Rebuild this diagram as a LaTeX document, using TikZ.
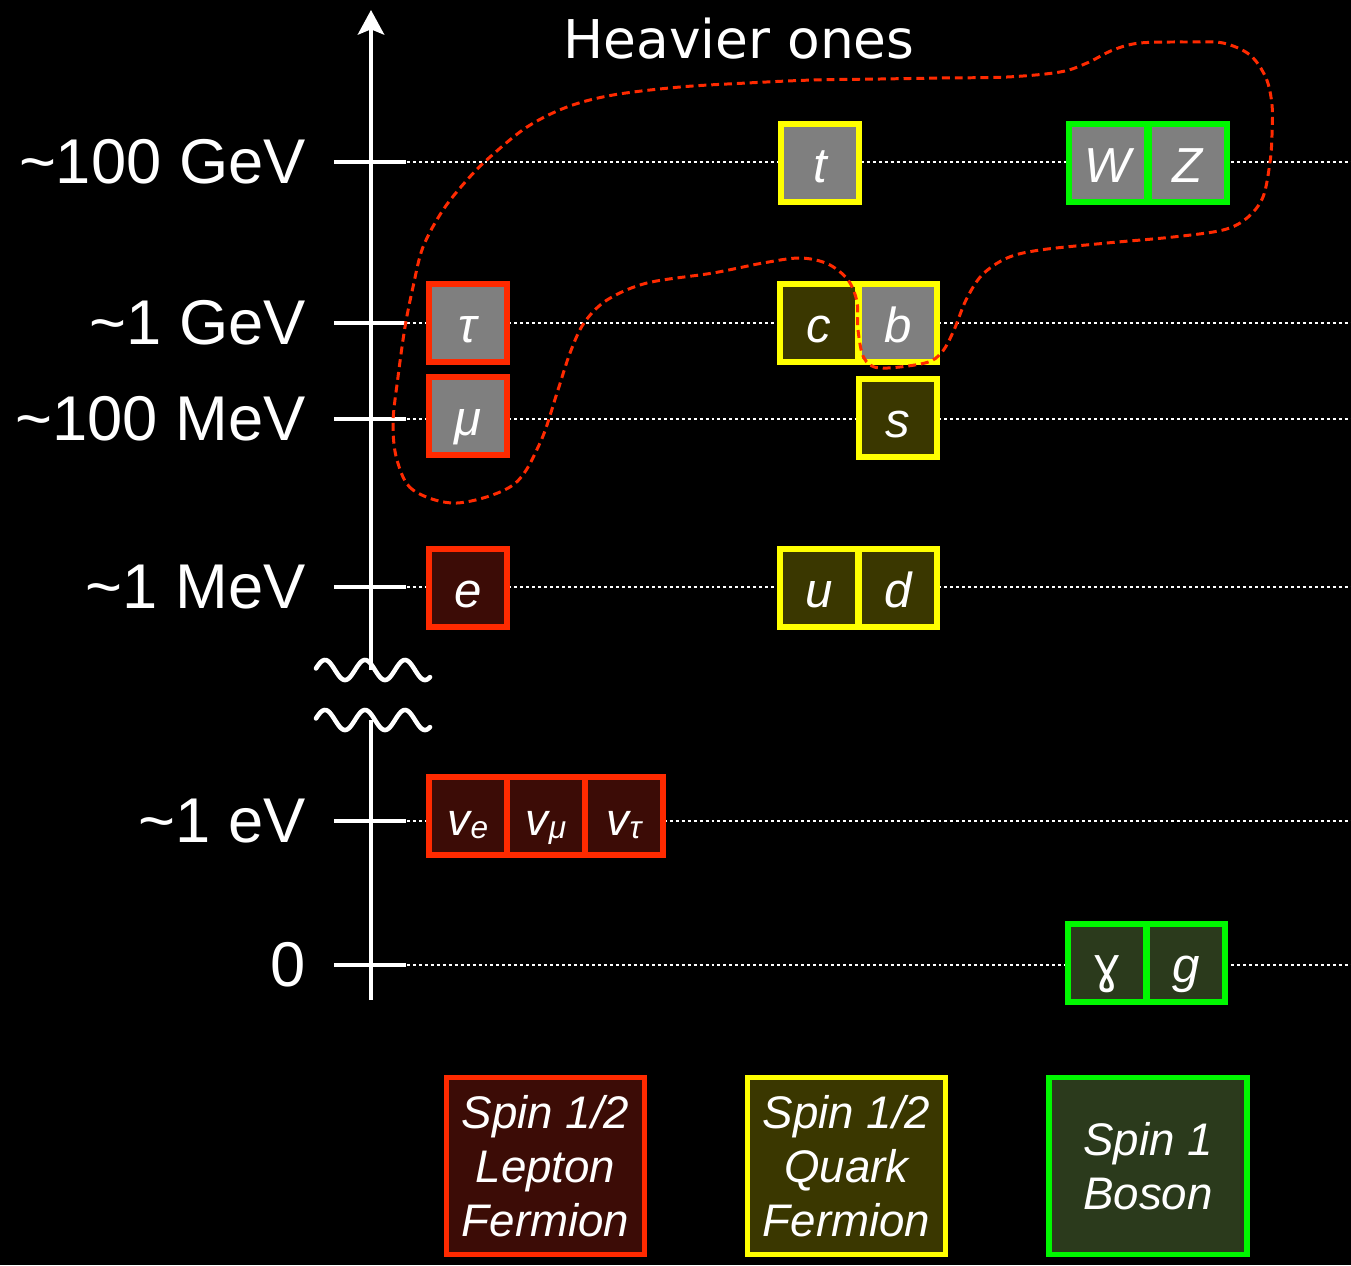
\documentclass[tikz,border=0pt]{standalone}
\usepackage{fontspec}
\setmainfont{Liberation Sans}
\newfontfamily\headfont{DejaVu Sans}
\newfontfamily\symfont{DejaVu Sans}
\usetikzlibrary{arrows.meta}

\definecolor{lepred}{HTML}{FF2A00}
\definecolor{lepfill}{HTML}{3C0C06}
\definecolor{qyellow}{HTML}{FFFF00}
\definecolor{qfill}{HTML}{3A3700}
\definecolor{bgreen}{HTML}{00F800}
\definecolor{bfill}{HTML}{2B3A1C}
\definecolor{heavygray}{HTML}{7F7F7F}
\definecolor{loopred}{HTML}{FF2A00}

\begin{document}
\begin{tikzpicture}[x=0.02cm, y=-0.02cm,
  axisline/.style={white, line width=2.3pt},
  tickline/.style={white, line width=1.8pt},
  gridline/.style={white, line width=0.8pt, dash pattern=on 1.7pt off 1.7pt},
  wavyline/.style={white, line width=2.6pt, line cap=round},
  axislabel/.style={text=white, inner sep=0pt, anchor=east, font=\fontsize{36}{36}\selectfont},
  headlabel/.style={text=white, inner sep=0pt, font=\headfont\fontsize{30.4}{30.4}\selectfont},
  particle/.style={draw, line width=3pt, minimum size=1.56cm, inner sep=0pt,
    text=white, font=\fontsize{28}{28}\selectfont\itshape, text height=22pt, text depth=0pt},
  lep/.style={particle, draw=lepred, fill=lepfill},
  qrk/.style={particle, draw=qyellow, fill=qfill},
  bos/.style={particle, draw=bgreen, fill=bfill},
  heavy/.style={fill=heavygray},
  catbox/.style={draw, line width=3pt, minimum width=3.96cm, minimum height=3.54cm,
    align=center, text=white, font=\fontsize{26}{30.6}\selectfont\itshape},
  heavyloop/.style={loopred, line width=1.7pt, dash pattern=on 4.5pt off 2.8pt}
]
% canvas
\fill[black] (0,0) rectangle (1351,1265);
\useasboundingbox (0,0) rectangle (1351,1265);

% energy levels: dotted guide lines, ticks and labels
\foreach \name/\yy/\lab in {
    gevh/162/{\textasciitilde100 GeV},
    gev/323/{\textasciitilde1 GeV},
    mevh/419/{\textasciitilde100 MeV},
    mev/587/{\textasciitilde1 MeV},
    ev/821/{\textasciitilde1 eV},
    zero/965/{0}} {
  \coordinate (\name-a) at (371,\yy);
  \coordinate (\name-l) at (334,\yy);
  \coordinate (\name-r) at (406,\yy);
  \coordinate (\name-e) at (1351,\yy);
  \draw[gridline] (\name-a) -- (\name-e);
  \draw[tickline] (\name-l) -- (\name-r);
  \node[axislabel] (\name-t) at (306,\yy) {\lab};
}

% broken vertical axis
\coordinate (axbottom) at (371,1000);
\coordinate (axlow) at (371,720);
\coordinate (axhigh) at (371,670);
\coordinate (axtop) at (371,10);
\draw[axisline] (axbottom) -- (axlow);
\draw[axisline, -{Stealth[width=15pt, length=14pt, inset=3pt]}] (axhigh) -- (axtop);

% break marks
\draw[wavyline] plot[domain=316:430, samples=120] (\x, {670-10*sin(9*(\x-315))});
\draw[wavyline] plot[domain=316:430, samples=120] (\x, {720-10*sin(9*(\x-315))});

\node[headlabel, anchor=base] (heavier) at (739,58) {Heavier ones};

% leptons
\node[lep, heavy] (tau) at (468,323) {τ};
\node[lep, heavy] (mu) at (468,416) {μ};
\node[lep] (e) at (468,588) {e};
\node[lep] (nue) at (468,816) {\fontsize{26}{26}\selectfont v\raisebox{-2pt}{\fontsize{18}{18}\selectfont e}};
\node[lep] (numu) at (546,816) {\fontsize{26}{26}\selectfont v\raisebox{-2pt}{\fontsize{18}{18}\selectfont μ}};
\node[lep] (nutau) at (624,816) {\fontsize{26}{26}\selectfont v\raisebox{-2pt}{\fontsize{18}{18}\selectfont τ}};

% quarks
\node[qrk, heavy] (t) at (820,163) {t};
\node[qrk] (c) at (819,323) {c};
\node[qrk, heavy] (b) at (898,323) {b};
\node[qrk] (s) at (898,418) {s};
\node[qrk] (u) at (819,588) {u};
\node[qrk] (d) at (898,588) {d};

% bosons
\node[bos, heavy] (W) at (1108,163) {W};
\node[bos, heavy] (Z) at (1188,163) {Z};
\node[bos] (gamma) at (1107,963) {\symfont\upshape ɣ};
\node[bos] (g) at (1186,963) {g};

% category boxes
\node[catbox, draw=lepred, fill=lepfill] (leptons) at (545.5,1166) {Spin 1/2\\Lepton\\Fermion};
\node[catbox, draw=qyellow, fill=qfill] (quarks) at (846.5,1166) {Spin 1/2\\Quark\\Fermion};
\node[catbox, draw=bgreen, fill=bfill] (bosons) at (1148,1166) {Spin 1\\Boson};

% outline around the heavy particles
\draw[heavyloop] plot[smooth cycle, tension=0.55] coordinates {
  (457,503) (413,490) (397,460) (393,423) (398,377) (405,327) (413,287)
  (423,247) (443,210) (467,180) (490,157) (527,127) (567,107) (613,95)
  (680,87) (747,83) (813,80) (880,79) (940,78) (1007,77) (1060,72)
  (1087,63) (1113,50) (1140,43) (1190,42) (1223,43) (1250,55) (1266,78)
  (1272,105) (1272,135) (1270,162) (1263,197) (1247,218) (1223,230)
  (1173,237) (1107,243) (1040,250) (1007,258) (982,275) (966,300)
  (954,330) (942,352) (925,363) (880,368) (864,358) (858,330) (857,302)
  (848,280) (828,264) (800,258) (763,263) (713,273) (647,283) (607,300)
  (584,323) (570,353) (557,393) (540,443) (513,485)
};
\end{tikzpicture}
\end{document}
